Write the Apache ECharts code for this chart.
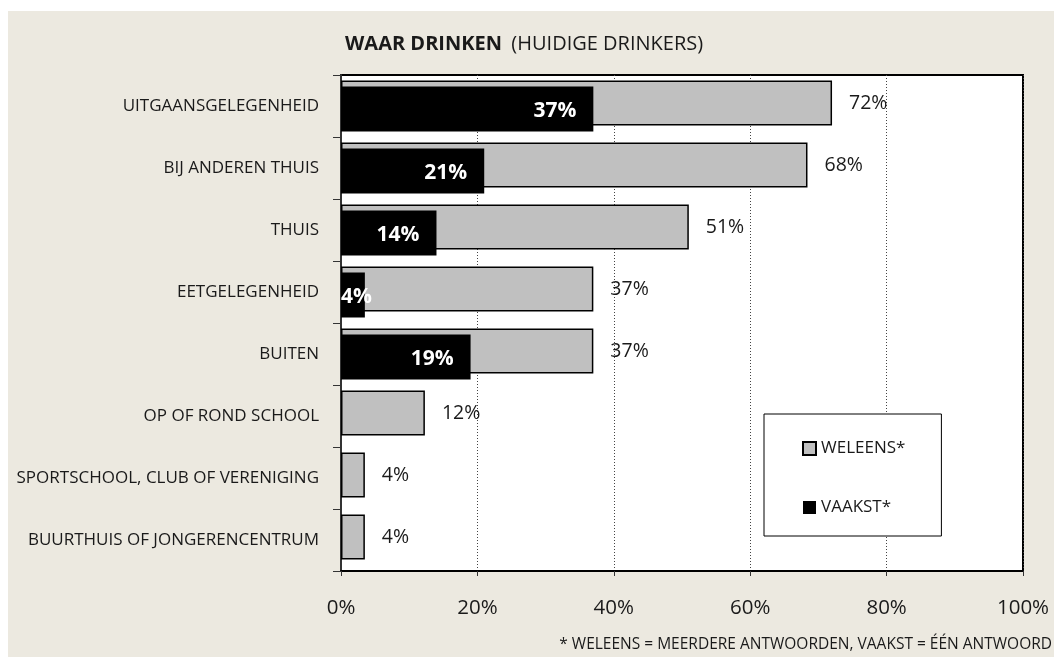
<!DOCTYPE html>
<html>
<head>
<meta charset="utf-8">
<script src="https://cdn.jsdelivr.net/npm/echarts@6/dist/echarts.min.js"></script>
<style>
  html, body { margin: 0; padding: 0; background: #fff; }
  #chart { width: 1054px; height: 657px; }
</style>
</head>
<body>
<div id="chart"></div>
<script>
// categories (top to bottom)
const categories = [
  "UITGAANSGELEGENHEID",
  "BIJ ANDEREN THUIS",
  "THUIS",
  "EETGELEGENHEID",
  "BUITEN",
  "OP OF ROND SCHOOL",
  "SPORTSCHOOL, CLUB OF VERENIGING",
  "BUURTHUIS OF JONGERENCENTRUM"
];
// percentages
const weleens = [72, 68.4, 51, 37, 37, 12.3, 3.5, 3.5];
const vaakst = [37, 21, 14, 3.5, 19, null, null, null];
const xTicks = [0, 20, 40, 60, 80, 100];

const font = "'Open Sans', 'Noto Sans', sans-serif";
const textColor = "#1a1a1a";

// small bars: label can't fit inside, put it at the axis
const vaakstData = vaakst.map(function (v) {
  if (v !== null && v < 8) {
    return { value: v, label: { position: "insideLeft", distance: 0 } };
  }
  return v;
});

const chart = echarts.init(document.getElementById("chart"));
chart.setOption({
  backgroundColor: "#fff",
  animation: false,
  textStyle: { fontFamily: font },
  graphic: [
    {
      type: "rect",
      z: -10,
      shape: { x: 8, y: 11, width: 1100, height: 700 },
      style: { fill: "#ECE9E0" }
    }
  ],
  title: [
    {
      text: "{b|WAAR DRINKEN}  {n|(HUIDIGE DRINKERS)}",
      left: 340,
      top: 29,
      textStyle: {
        fontWeight: "normal",
        rich: {
          b: { fontFamily: font, fontSize: 20, fontWeight: "bold", color: textColor },
          n: { fontFamily: font, fontSize: 20, fontWeight: "normal", color: textColor }
        }
      }
    },
    {
      text: "* WELEENS = MEERDERE ANTWOORDEN, VAAKST = ÉÉN ANTWOORD",
      right: 2,
      top: 637,
      padding: 0,
      textStyle: { fontFamily: font, fontSize: 15.5, fontWeight: "normal", color: textColor }
    }
  ],
  legend: {
    orient: "vertical",
    left: 764,
    top: 414,
    padding: [26, 36, 20, 38],
    backgroundColor: "#fff",
    borderColor: "#000",
    borderWidth: 1,
    borderRadius: 0,
    itemWidth: 13,
    itemHeight: 13,
    itemGap: 42,
    icon: "rect",
    textStyle: { fontFamily: font, fontSize: 17, color: textColor, padding: [7, 0, 0, 0] },
    data: ["WELEENS*", "VAAKST*"]
  },
  grid: {
    left: 341,
    right: 31,
    top: 75,
    bottom: 86,
    show: true,
    backgroundColor: "#fff",
    borderColor: "#000",
    borderWidth: 2
  },
  xAxis: {
    type: "value",
    min: 0,
    max: 100,
    interval: 20,
    axisLine: { show: true, lineStyle: { color: "#000", width: 2 } },
    axisTick: { show: true, length: 5, lineStyle: { color: "#333" } },
    axisLabel: {
      margin: 27,
      fontFamily: font,
      fontSize: 20.5,
      color: textColor,
      formatter: function (v) { return xTicks.indexOf(v) >= 0 ? v + "%" : ""; }
    },
    splitLine: { show: true, lineStyle: { color: "#444", type: [1, 2], width: 1 } }
  },
  yAxis: {
    type: "category",
    inverse: true,
    data: categories,
    axisLine: { show: true, lineStyle: { color: "#333", width: 2 } },
    axisTick: { show: true, length: 8, lineStyle: { color: "#333" } },
    axisLabel: { margin: 22, fontFamily: font, fontSize: 17, color: textColor }
  },
  series: [
    {
      name: "WELEENS*",
      type: "bar",
      data: weleens,
      barWidth: 45,
      barGap: "-87%",
      itemStyle: { color: "#C0C0C0", borderColor: "#000", borderWidth: 1.5 },
      label: {
        show: true,
        position: "right",
        distance: 17,
        fontFamily: font,
        fontSize: 19.5,
        color: textColor,
        formatter: function (p) { return Math.round(p.value) + "%"; }
      }
    },
    {
      name: "VAAKST*",
      type: "bar",
      data: vaakstData,
      barWidth: 45,
      itemStyle: { color: "#000" },
      label: {
        show: true,
        position: "insideRight",
        distance: 17,
        offset: [0, 2],
        fontFamily: font,
        fontSize: 21,
        fontWeight: "bold",
        color: "#fff",
        formatter: function (p) { return Math.round(p.value) + "%"; }
      }
    }
  ]
});
</script>
</body>
</html>
